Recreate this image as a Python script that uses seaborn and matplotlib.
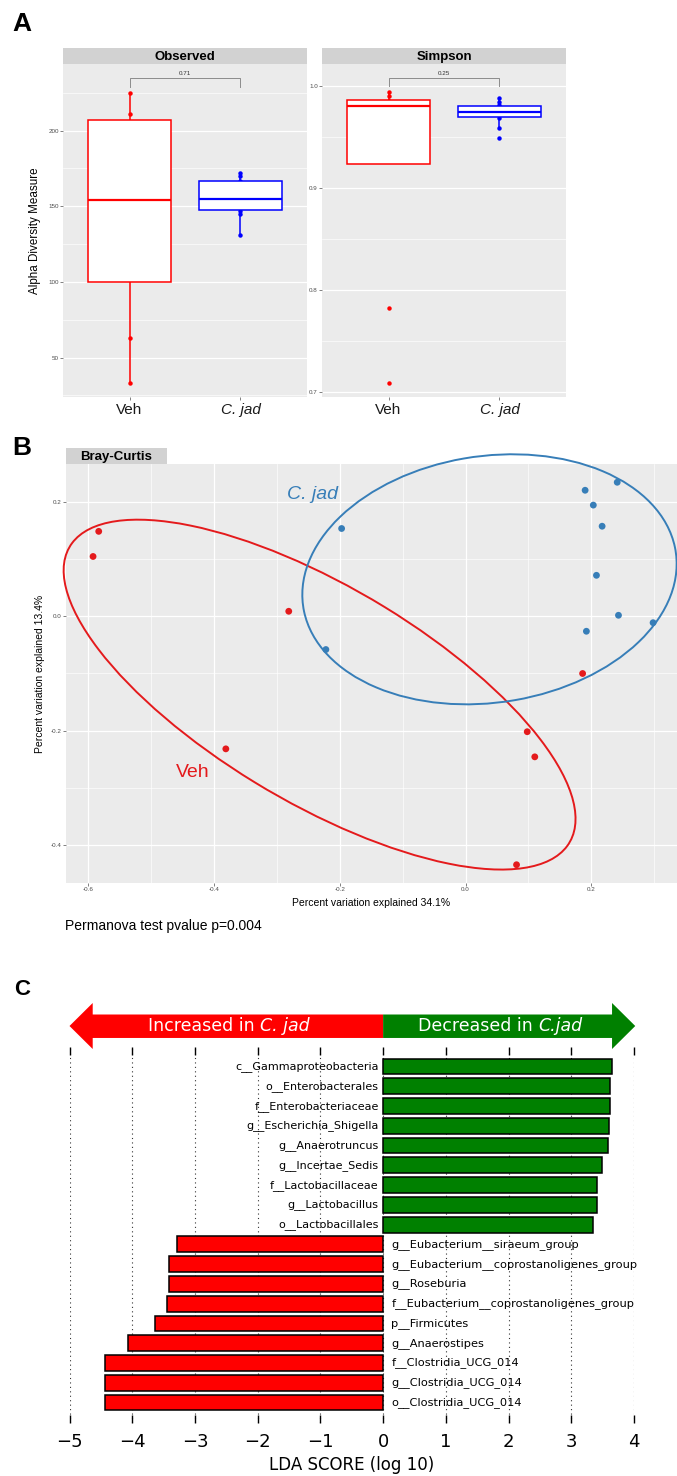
"""Alpha diversity, Bray-Curtis PCoA and LEfSe panels redrawn with seaborn."""
import numpy as np
import pandas as pd
import matplotlib
matplotlib.use('Agg')
import matplotlib.pyplot as plt
from matplotlib.patches import Ellipse, Polygon
from matplotlib.ticker import MultipleLocator
import seaborn as sns

# ---- panel A: alpha diversity ----
groups = ['Veh', 'C. jad']
observed_veh = [33, 63, 112, 140, 168, 206, 211, 225]
observed_cjad = [131, 145, 147, 150, 154, 156, 165, 167, 170, 172]
simpson_veh = [0.709, 0.782, 0.971, 0.978, 0.982, 0.985, 0.990, 0.994]
simpson_cjad = [0.949, 0.959, 0.969, 0.972, 0.974, 0.976, 0.978, 0.981, 0.984, 0.988]
alpha_pvalues = ['0.71', '0.25']
bracket_top = [235, 1.008]
bracket_foot = [229, 1.000]

# ---- panel B: Bray-Curtis PCoA ----
pc1_veh = [-0.592, -0.583, -0.281, -0.381, 0.186, 0.098, 0.110, 0.081]
pc2_veh = [0.105, 0.149, 0.009, -0.232, -0.100, -0.202, -0.246, -0.435]
pc1_cjad = [-0.197, -0.222, 0.190, 0.241, 0.203, 0.217, 0.208, 0.243, 0.192, 0.298]
pc2_cjad = [0.154, -0.058, 0.221, 0.235, 0.195, 0.158, 0.072, 0.002, -0.026, -0.011]
# 95% ellipses: centre x, centre y, width, height, angle (deg)
ellipse_veh = [-0.232, -0.137, 0.949, 0.370, -34.0]
ellipse_cjad = [0.038, 0.065, 0.600, 0.431, 10.8]
group_label_xy = {'Veh': (-0.433, -0.274), 'C. jad': (-0.244, 0.214)}
pcoa_xlabel = 'Percent variation explained 34.1%'
pcoa_ylabel = 'Percent variation explained 13.4%'
permanova_text = 'Permanova test pvalue p=0.004'

# ---- panel C: LEfSe ----
lda_taxa = ['c__Gammaproteobacteria', 'o__Enterobacterales', 'f__Enterobacteriaceae',
            'g__Escherichia_Shigella', 'g__Anaerotruncus', 'g__Incertae_Sedis',
            'f__Lactobacillaceae', 'g__Lactobacillus', 'o__Lactobacillales',
            'g__Eubacterium__siraeum_group', 'g__Eubacterium__coprostanoligenes_group',
            'g__Roseburia', 'f__Eubacterium__coprostanoligenes_group', 'p__Firmicutes',
            'g__Anaerostipes', 'f__Clostridia_UCG_014', 'g__Clostridia_UCG_014',
            'o__Clostridia_UCG_014']
lda_scores = [3.65, 3.61, 3.61, 3.60, 3.58, 3.49, 3.41, 3.41, 3.34,
              -3.29, -3.41, -3.41, -3.44, -3.63, -4.07, -4.44, -4.44, -4.44]
lda_ticks = [-5, -4, -3, -2, -1, 0, 1, 2, 3, 4]

alpha_colors = {'Veh': '#FF0000', 'C. jad': '#0000FF'}
pcoa_colors = {'Veh': '#E41A1C', 'C. jad': '#377EB8'}
lda_colors = {'inc': '#FF0000', 'dec': '#008000'}

W, H = 677, 1476
plt.rcParams['font.family'] = ['Liberation Sans', 'DejaVu Sans']
fig = plt.figure(figsize=(W / 100, H / 100), dpi=100)


def frac(l, t, r, b):
    return [l / W, 1 - b / H, (r - l) / W, (b - t) / H]


def gg_panel(ax):
    ax.set_facecolor('#EBEBEB')
    for s in ax.spines.values():
        s.set_visible(False)
    ax.set_axisbelow(True)
    ax.grid(True, which='major', color='white', linewidth=0.9)
    ax.grid(True, which='minor', color='white', linewidth=0.45)
    ax.tick_params(which='major', labelsize=4.5, labelcolor='#4D4D4D', color='#4D4D4D',
                   length=2, width=0.5, pad=1)
    ax.tick_params(which='minor', length=0)


def strip(pos, label):
    s = fig.add_axes(pos)
    s.set_facecolor('#D2D2D2')
    s.set_xticks([])
    s.set_yticks([])
    for sp in s.spines.values():
        sp.set_visible(False)
    s.text(0.5, 0.45, label, ha='center', va='center', fontsize=9.5,
           fontweight='bold', transform=s.transAxes)


# ---------------- panel A ----------------
alpha_df = pd.DataFrame({
    'measure': ['Observed'] * (len(observed_veh) + len(observed_cjad))
               + ['Simpson'] * (len(simpson_veh) + len(simpson_cjad)),
    'group': ['Veh'] * len(observed_veh) + ['C. jad'] * len(observed_cjad)
             + ['Veh'] * len(simpson_veh) + ['C. jad'] * len(simpson_cjad),
    'value': observed_veh + observed_cjad + simpson_veh + simpson_cjad,
})

panel_a = [
    ('Observed', frac(63, 64, 307, 397), frac(63, 48, 307, 64), (24, 244), [50, 100, 150, 200], 25),
    ('Simpson', frac(322, 64, 566, 397), frac(322, 48, 566, 64), (0.695, 1.0216), [0.7, 0.8, 0.9, 1.0], 0.05),
]
for k, (measure, pos, strip_pos, ylim, yticks, minor) in enumerate(panel_a):
    ax = fig.add_axes(pos)
    gg_panel(ax)
    sub = alpha_df[alpha_df['measure'] == measure]
    for g in groups:
        d = sub[sub['group'] == g]
        # points first, the white box then hides the ones inside it
        sns.stripplot(data=d, x='group', y='value', order=groups, color=alpha_colors[g],
                      jitter=False, size=3.2, linewidth=0, zorder=1, ax=ax)
        sns.boxplot(data=d, x='group', y='value', order=groups, color='white',
                    linecolor=alpha_colors[g], linewidth=1.1, width=0.75, showcaps=False,
                    showfliers=False, saturation=1, medianprops={'linewidth': 1.6},
                    zorder=3, ax=ax)
    ax.plot([0, 0, 1, 1], [bracket_foot[k], bracket_top[k], bracket_top[k], bracket_foot[k]],
            color='#8C8C8C', lw=0.7)
    ax.annotate(alpha_pvalues[k], (0.5, bracket_top[k]), xytext=(0, 1.5),
                textcoords='offset points', ha='center', va='bottom', fontsize=4.5,
                color='#333333')
    ax.set_xlim(-0.6, 1.6)
    ax.set_ylim(*ylim)
    ax.set_yticks(yticks)
    ax.set_yticklabels([f'{t:g}' if measure == 'Observed' else f'{t:.1f}' for t in yticks])
    ax.yaxis.set_minor_locator(MultipleLocator(minor))
    ax.set_xticks([0, 1])
    ax.set_xticklabels(groups)
    ax.tick_params(axis='x', labelsize=11, labelcolor='#1A1A1A', pad=2.5)
    ax.get_xticklabels()[1].set_style('italic')
    ax.set_xlabel('')
    ax.set_ylabel('Alpha Diversity Measure' if k == 0 else '', fontsize=8.4, labelpad=5)
    strip(strip_pos, measure)

# ---------------- panel B ----------------
pcoa_df = pd.DataFrame({
    'PC1': pc1_veh + pc1_cjad,
    'PC2': pc2_veh + pc2_cjad,
    'group': ['Veh'] * len(pc1_veh) + ['C. jad'] * len(pc1_cjad),
})
axb = fig.add_axes(frac(66, 464, 677, 883))
gg_panel(axb)
sns.scatterplot(data=pcoa_df, x='PC1', y='PC2', hue='group', palette=pcoa_colors,
                s=24, linewidth=0, legend=False, ax=axb, zorder=3)
for g, e in zip(groups, [ellipse_veh, ellipse_cjad]):
    axb.add_patch(Ellipse((e[0], e[1]), e[2], e[3], angle=e[4], fill=False,
                          edgecolor=pcoa_colors[g], linewidth=1.4, clip_on=False, zorder=4))
    axb.text(*group_label_xy[g], g, color=pcoa_colors[g], fontsize=14,
             style='italic' if g == 'C. jad' else 'normal', ha='center', va='center')
axb.set_xlim(-0.635, 0.336)
axb.set_ylim(-0.467, 0.267)
bx = [-0.6, -0.4, -0.2, 0.0, 0.2]
by = [-0.4, -0.2, 0.0, 0.2]
axb.set_xticks(bx)
axb.set_xticklabels([f'{t:.1f}' for t in bx])
axb.set_yticks(by)
axb.set_yticklabels([f'{t:.1f}' for t in by])
axb.xaxis.set_minor_locator(MultipleLocator(0.1))
axb.yaxis.set_minor_locator(MultipleLocator(0.1))
axb.set_xlabel(pcoa_xlabel, fontsize=7.5, labelpad=4)
axb.set_ylabel(pcoa_ylabel, fontsize=7.5, labelpad=4)
strip(frac(66, 448, 167, 464), 'Bray-Curtis')
fig.text(65 / W, 1 - 926 / H, permanova_text, fontsize=10, va='center', ha='left')

# ---------------- panel C ----------------
lda_df = pd.DataFrame({'taxon': lda_taxa, 'score': lda_scores})
lda_df['direction'] = np.where(lda_df['score'] > 0, 'dec', 'inc')
axc = fig.add_axes(frac(69.5, 1047, 634, 1423))
sns.barplot(data=lda_df, x='score', y='taxon', hue='direction', palette=lda_colors,
            dodge=False, width=0.8, edgecolor='black', linewidth=1.1, saturation=1,
            legend=False, ax=axc, zorder=2)
for i, (t, s) in enumerate(zip(lda_taxa, lda_scores)):
    if s > 0:
        axc.text(-0.07, i, t, ha='right', va='center', fontsize=8, family='DejaVu Sans')
    else:
        axc.text(0.13, i, t, ha='left', va='center', fontsize=8.2, family='DejaVu Sans')
axc.set_xlim(-5, 4)
axc.set_ylim(len(lda_taxa) + 0.04, -0.99)
axc.set_yticks([])
axc.set_ylabel('')
axc.set_xticks(lda_ticks)
axc.set_xticklabels([f'{t}'.replace('-', '\u2212') for t in lda_ticks], family='DejaVu Sans')
axc.tick_params(axis='x', direction='in', top=True, bottom=True, length=6, width=1,
                labelsize=13, pad=7)
axc.set_axisbelow(True)
axc.grid(axis='x', linestyle=(0, (1, 3)), color='#333333', linewidth=0.8)
for s in axc.spines.values():
    s.set_visible(False)
axc.set_xlabel('LDA SCORE (log 10)', fontsize=12, family='DejaVu Sans', labelpad=4)

# direction arrow above the bars
axa = fig.add_axes(frac(69.5, 1003, 634, 1049))
axa.set_xlim(-5, 4)
axa.set_ylim(0, 1)
axa.axis('off')
head, lo, hi = 0.37, 0.24, 0.75
axa.add_patch(Polygon([(-5, 0.5), (-5 + head, 1), (-5 + head, hi), (0, hi), (0, lo),
                       (-5 + head, lo), (-5 + head, 0)], closed=True,
                      facecolor=lda_colors['inc'], edgecolor='none', clip_on=False))
axa.add_patch(Polygon([(4.02, 0.5), (4.02 - head, 1), (4.02 - head, hi), (0, hi), (0, lo),
                       (4.02 - head, lo), (4.02 - head, 0)], closed=True,
                      facecolor=lda_colors['dec'], edgecolor='none', clip_on=False))
axa.text(-1.96, 0.5, 'Increased in ', ha='right', va='center', color='white', fontsize=12.5,
         family='DejaVu Sans')
axa.text(-1.96, 0.5, 'C. jad', ha='left', va='center', color='white', fontsize=12.5,
         style='italic', family='DejaVu Sans')
axa.text(2.48, 0.5, 'Decreased in ', ha='right', va='center', color='white', fontsize=12.5,
         family='DejaVu Sans')
axa.text(2.48, 0.5, 'C.jad', ha='left', va='center', color='white', fontsize=12.5,
         style='italic', family='DejaVu Sans')

# panel letters
fig.text(12 / W, 1 - 12 / H, 'A', fontsize=19, fontweight='bold', va='top', ha='left')
fig.text(12 / W, 1 - 436 / H, 'B', fontsize=19, fontweight='bold', va='top', ha='left')
fig.text(14 / W, 1 - 979 / H, 'C', fontsize=16, fontweight='bold', va='top', ha='left')

fig.savefig('out.png', dpi=100)
